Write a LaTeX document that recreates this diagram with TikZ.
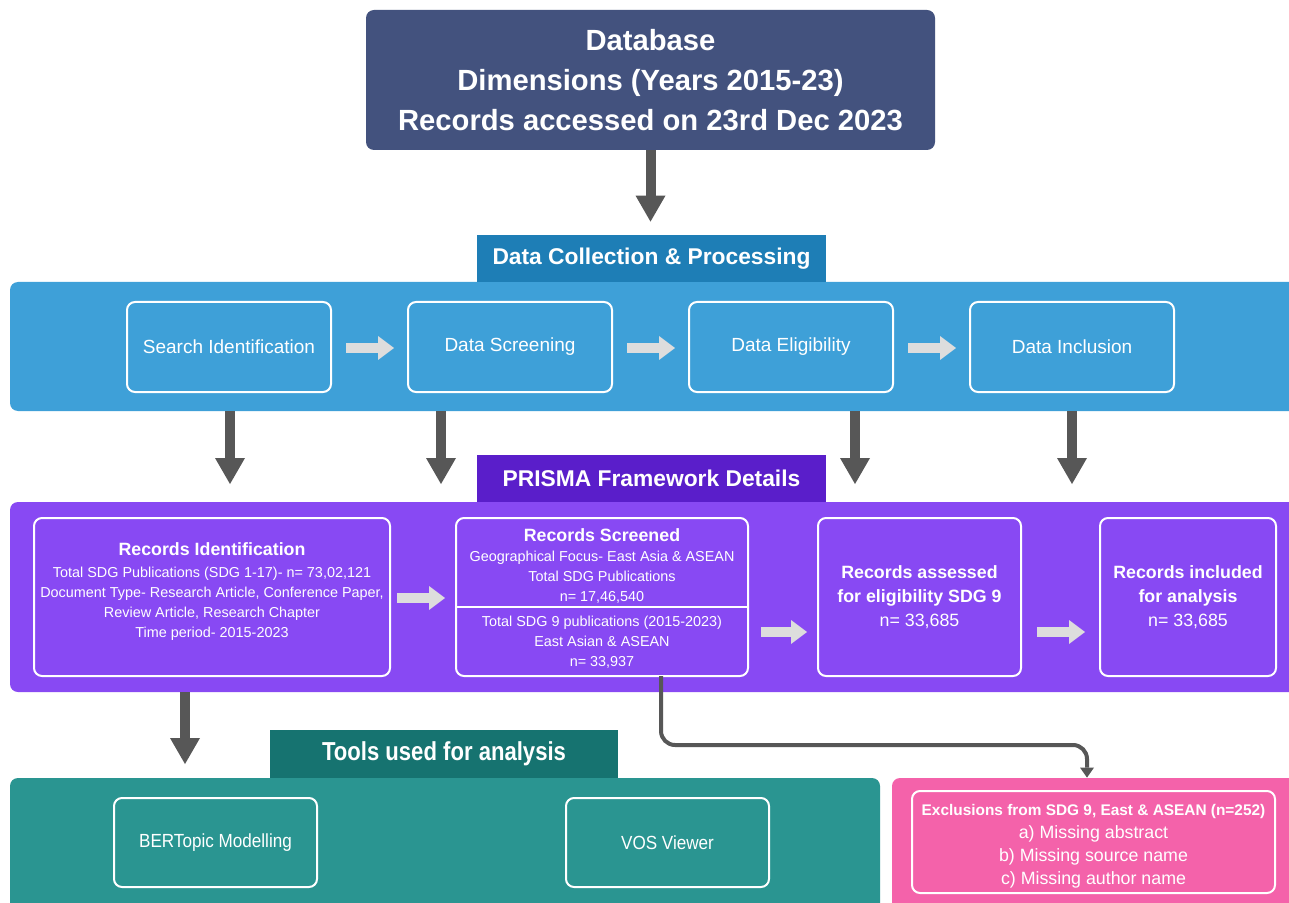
\documentclass[tikz,border=0pt]{standalone}
\usepackage{fontspec}
\setmainfont{Liberation Sans}
\usetikzlibrary{arrows.meta,calc}
\definecolor{dbcol}{HTML}{43527E}
\definecolor{bluetab}{HTML}{1E7EB6}
\definecolor{bluepanel}{HTML}{3EA0D8}
\definecolor{purpletab}{HTML}{5A1ECA}
\definecolor{purplepanel}{HTML}{8849F3}
\definecolor{tealtab}{HTML}{167370}
\definecolor{tealpanel}{HTML}{2A9591}
\definecolor{pinkpanel}{HTML}{F462AA}
\definecolor{darkarrow}{HTML}{575757}
\definecolor{lightarrow}{HTML}{DDDDDD}
\begin{document}
\begin{tikzpicture}[x=0.5pt,y=-0.5pt,
  panel/.style={fill=#1, draw=none, rounded corners=4pt, inner sep=0pt, text=white, align=center},
  ibox/.style={draw=white, line width=1pt, rounded corners=4pt, text=white, align=center, inner sep=0pt},
  darr/.style={draw=darkarrow, line width=5pt, -{Triangle[width=15pt,length=13pt,line width=0pt]}},
  larr/.style={draw=lightarrow, line width=5pt, -{Triangle[width=12pt,length=8pt,line width=0pt]}},
  conn/.style={draw=darkarrow, line width=2pt, rounded corners=7pt, -{Triangle[width=7pt,length=5pt,line width=0pt]}},
  ftitle/.style={font=\fontsize{14.6}{20}\selectfont\bfseries},
  ftab/.style={font=\fontsize{11.4}{14}\selectfont\bfseries},
  fstep/.style={font=\fontsize{9.5}{12}\selectfont},
  fsmall/.style={font=\fontsize{7.2}{10}\selectfont},
  fmid/.style={font=\fontsize{8.9}{12}\selectfont},
  txt/.style={text=white, align=center, inner sep=0pt}
]
\useasboundingbox (0,0) rectangle (1289,903);
\fill[white] (0,0) rectangle (1289,903);

% top database box
\node[panel=dbcol, minimum width=284.5pt, minimum height=70pt, ftitle] (db) at (650.5,80)
  {Database\\Dimensions (Years 2015-23)\\Records accessed on 23rd Dec 2023};

% data collection section
\node[panel=bluepanel, minimum width=645pt, minimum height=64.5pt] (bp) at (655,346.5) {};
\node[fill=bluetab, inner sep=0pt, minimum width=174.5pt, minimum height=23.5pt, text=white, ftab] (dct) at (651.5,258.5) {Data Collection \& Processing};
\node[ibox, minimum width=102pt, minimum height=45pt, fstep] (s1) at (229,347) {Search Identification};
\node[ibox, minimum width=102pt, minimum height=45pt, fstep] (s2) at (510,347) {Data Screening};
\node[ibox, minimum width=102pt, minimum height=45pt, fstep] (s3) at (791,347) {Data Eligibility};
\node[ibox, minimum width=102pt, minimum height=45pt, fstep] (s4) at (1072,347) {Data Inclusion};

\draw[darr] (db.south) -- ($(db.south |- dct.north)+(0,-13)$);
\draw[larr] ($(s1.east)+(14,1)$) -- ($(s2.west)+(-13,1)$);
\draw[larr] ($(s2.east)+(14,1)$) -- ($(s3.west)+(-13,1)$);
\draw[larr] ($(s3.east)+(14,1)$) -- ($(s4.west)+(-13,1)$);

% PRISMA section
\node[panel=purplepanel, minimum width=645pt, minimum height=95pt] (pp) at (655,597) {};
\node[fill=purpletab, inner sep=0pt, minimum width=174.5pt, minimum height=23.5pt, text=white, ftab] (pt) at (651.5,478.5) {PRISMA Framework Details};

\coordinate (a1) at (230,484);
\coordinate (a2) at (441,484);
\coordinate (a3) at (855,484);
\coordinate (a4) at (1072,484);
\draw[darr] (a1 |- bp.south) -- (a1);
\draw[darr] (a2 |- bp.south) -- (a2);
\draw[darr] (a3 |- bp.south) -- (a3);
\draw[darr] (a4 |- bp.south) -- (a4);

\node[ibox, minimum width=178pt, minimum height=79pt, fsmall] (ri) at (212,597)
  {{\fontsize{8.9}{12}\selectfont\bfseries Records Identification}\\[1pt]
   Total SDG Publications (SDG 1-17)- n= 73,02,121\\
   Document Type- Research Article, Conference Paper,\\
   Review Article, Research Chapter\\
   Time period- 2015-2023\\[-3pt]\mbox{}};
\node[ibox, minimum width=146pt, minimum height=79pt] (rs) at (602,597) {};
\coordinate (dv) at (0,607);
\draw[white, line width=1pt] (rs.west |- dv) -- (rs.east |- dv);
\node[txt, fsmall] (rst) at (602,566)
  {{\fontsize{8.9}{12}\selectfont\bfseries Records Screened}\\
   Geographical Focus- East Asia \& ASEAN\\
   Total SDG Publications\\
   n= 17,46,540};
\node[txt, fsmall] (rsb) at (602,642)
  {Total SDG 9 publications (2015-2023)\\
   East Asian \& ASEAN\\
   n= 33,937};
\node[ibox, minimum width=101.5pt, minimum height=79pt, fmid] (ra) at (919.5,597)
  {\textbf{Records assessed}\\\textbf{for eligibility SDG 9}\\n= 33,685};
\node[ibox, minimum width=88pt, minimum height=79pt, fmid] (rin) at (1188,597)
  {\textbf{Records included}\\\textbf{for analysis}\\n= 33,685};

\coordinate (y2) at (0,632);
\draw[larr] ($(ri.east)+(6,1)$) -- ($(rs.west)+(-10,1)$);
\draw[larr] ($(rs.east |- y2)+(12,0)$) -- ($(ra.west |- y2)+(-10,0)$);
\draw[larr] ($(ra.east |- y2)+(15,0)$) -- ($(rin.west |- y2)+(-14,0)$);

% tools section
\node[panel=tealpanel, minimum width=435pt, minimum height=68pt] (tp) at (445,846) {};
\node[fill=tealtab, inner sep=0pt, minimum width=174pt, minimum height=24pt, text=white] (tt) at (444,754)
  {\scalebox{0.85}[1]{\fontsize{13}{15}\selectfont\bfseries Tools used for analysis}};
\node[ibox, minimum width=101.5pt, minimum height=44.5pt, fstep] (bt) at (215.5,842.5) {\scalebox{0.9}[1]{BERTopic Modelling}};
\node[ibox, minimum width=101.5pt, minimum height=44.5pt, fstep] (vos) at (667.5,842.5) {\scalebox{0.9}[1]{VOS Viewer}};

\coordinate (a5) at (185,764);
\draw[darr] (a5 |- pp.south) -- (a5);

% exclusions
\node[panel=pinkpanel, minimum width=204pt, minimum height=68pt] (pk) at (1096,846) {};
\node[ibox, minimum width=181.5pt, minimum height=51pt] (ex) at (1093.5,842) {};
\node[txt, font=\fontsize{8.9}{11.5}\selectfont] (extxt) at (1093.5,846)
  {{\fontsize{7.7}{10}\selectfont\bfseries Exclusions from SDG 9, East \& ASEAN (n=252)}\\
   a) Missing abstract\\b) Missing source name\\c) Missing author name};

\coordinate (c1) at (661,676);
\coordinate (cx) at (1087,745);
\draw[conn] (c1) |- (cx) -- (cx |- pk.north);
\end{tikzpicture}
\end{document}
